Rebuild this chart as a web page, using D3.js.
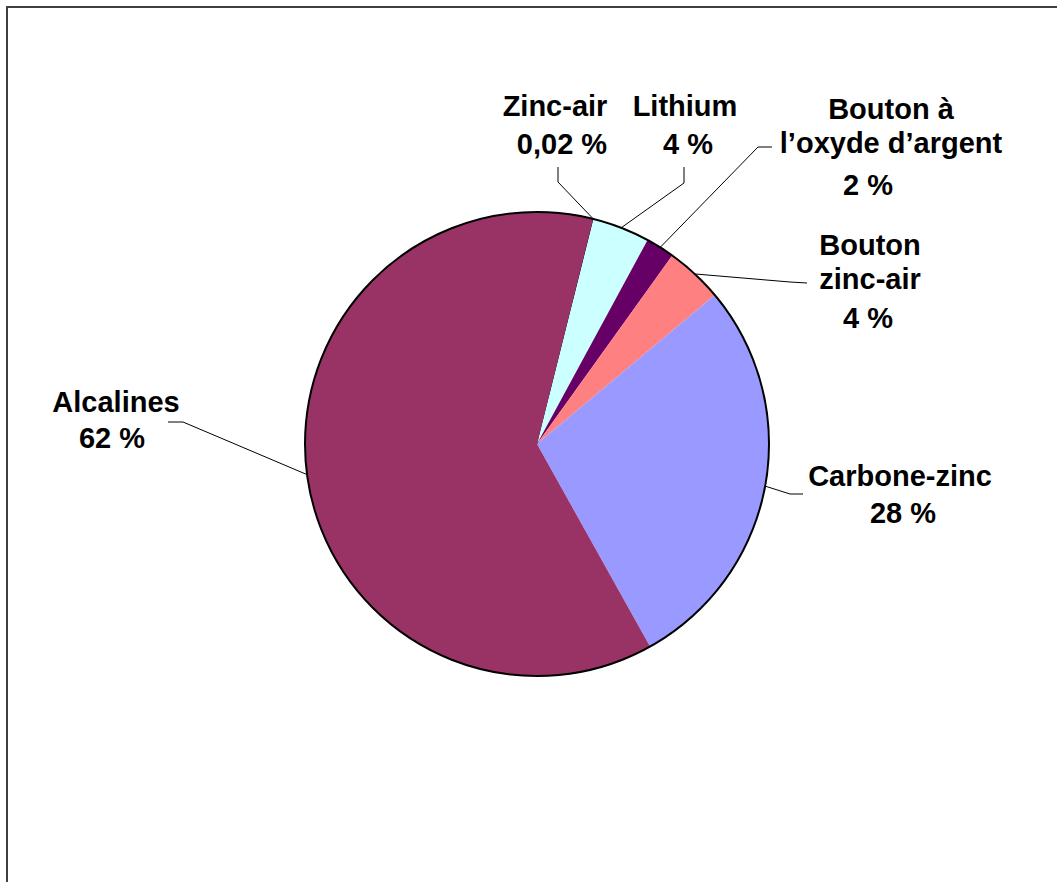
<!DOCTYPE html>
<html>
<head>
<meta charset="utf-8">
<script src="https://cdn.jsdelivr.net/npm/d3@7"></script>
<style>
  html, body { margin: 0; padding: 0; background: #fff; }
  svg { display: block; }
</style>
</head>
<body>
<svg id="chart" width="1057" height="882"></svg>
<script>
// data, clockwise from the top-right start of the pie
const categories = ["Zinc-air", "Lithium", "Bouton à l’oxyde d’argent", "Bouton zinc-air", "Carbone-zinc", "Alcalines"];
const nameLines = [["Zinc-air"], ["Lithium"], ["Bouton à", "l’oxyde d’argent"], ["Bouton", "zinc-air"], ["Carbone-zinc"], ["Alcalines"]];
const values = [0.02, 4, 2, 4, 28, 62];
const valueLabels = ["0,02 %", "4 %", "2 %", "4 %", "28 %", "62 %"];
const colors = ["#000000", "#CCFFFF", "#660066", "#FF8080", "#9999FF", "#993366"];

// label layout: text line anchors [x, baseline] and leader elbow points
const labelLayout = [
  { lines: [[555, 116], [562, 154]], leader: [[558, 167], [558, 182]] },
  { lines: [[685, 116], [688, 154]], leader: [[684, 167], [684, 183]] },
  { lines: [[891, 119], [891, 153], [868, 195]], leader: [[772, 147], [758, 147]] },
  { lines: [[870, 255], [870, 289], [868, 328]], leader: [[807, 283], [790, 282]] },
  { lines: [[900, 486], [903, 523]], leader: [[803, 494], [790, 494]] },
  { lines: [[116, 412], [112, 448]], leader: [[168, 422], [183, 422]] }
];

const cx = 537, cy = 444, r = 232;
const start = 14 * Math.PI / 180;

const svg = d3.select("#chart");

// outer frame (cropped at right and bottom)
svg.append("rect")
  .attr("x", 7).attr("y", 7)
  .attr("width", 1200).attr("height", 1000)
  .attr("fill", "none")
  .attr("stroke", "#404040")
  .attr("stroke-width", 2);

const pie = d3.pie().sort(null).startAngle(start).endAngle(start + 2 * Math.PI);
const arcs = pie(values);
const arc = d3.arc().innerRadius(0).outerRadius(r);
const edge = d3.arc().innerRadius(r).outerRadius(r);

const g = svg.append("g").attr("transform", `translate(${cx},${cy})`);

g.selectAll("path.slice")
  .data(arcs)
  .join("path")
  .attr("class", "slice")
  .attr("d", arc)
  .attr("fill", (d, i) => colors[i])
  .attr("stroke", (d, i) => i === 0 ? "#000" : "none")
  .attr("stroke-width", 1.5);

// outer edge
g.append("circle")
  .attr("r", r)
  .attr("fill", "none")
  .attr("stroke", "#000")
  .attr("stroke-width", 2);

// leader lines
svg.selectAll("polyline.leader")
  .data(arcs)
  .join("polyline")
  .attr("class", "leader")
  .attr("points", (d, i) => {
    const [ex, ey] = edge.centroid(d);
    return labelLayout[i].leader.concat([[cx + ex, cy + ey]]).map(p => p.join(",")).join(" ");
  })
  .attr("fill", "none")
  .attr("stroke", "#000")
  .attr("stroke-width", 1);

// labels
const labels = svg.selectAll("g.label")
  .data(categories)
  .join("g")
  .attr("class", "label");

labels.each(function (c, i) {
  const texts = nameLines[i].concat([valueLabels[i]]);
  d3.select(this).selectAll("text")
    .data(texts)
    .join("text")
    .attr("x", (t, j) => labelLayout[i].lines[j][0])
    .attr("y", (t, j) => labelLayout[i].lines[j][1])
    .attr("text-anchor", "middle")
    .attr("font-family", "Arial, 'Liberation Sans', sans-serif")
    .attr("font-weight", "bold")
    .attr("font-size", 29)
    .attr("fill", "#000")
    .text(t => t);
});
</script>
</body>
</html>
